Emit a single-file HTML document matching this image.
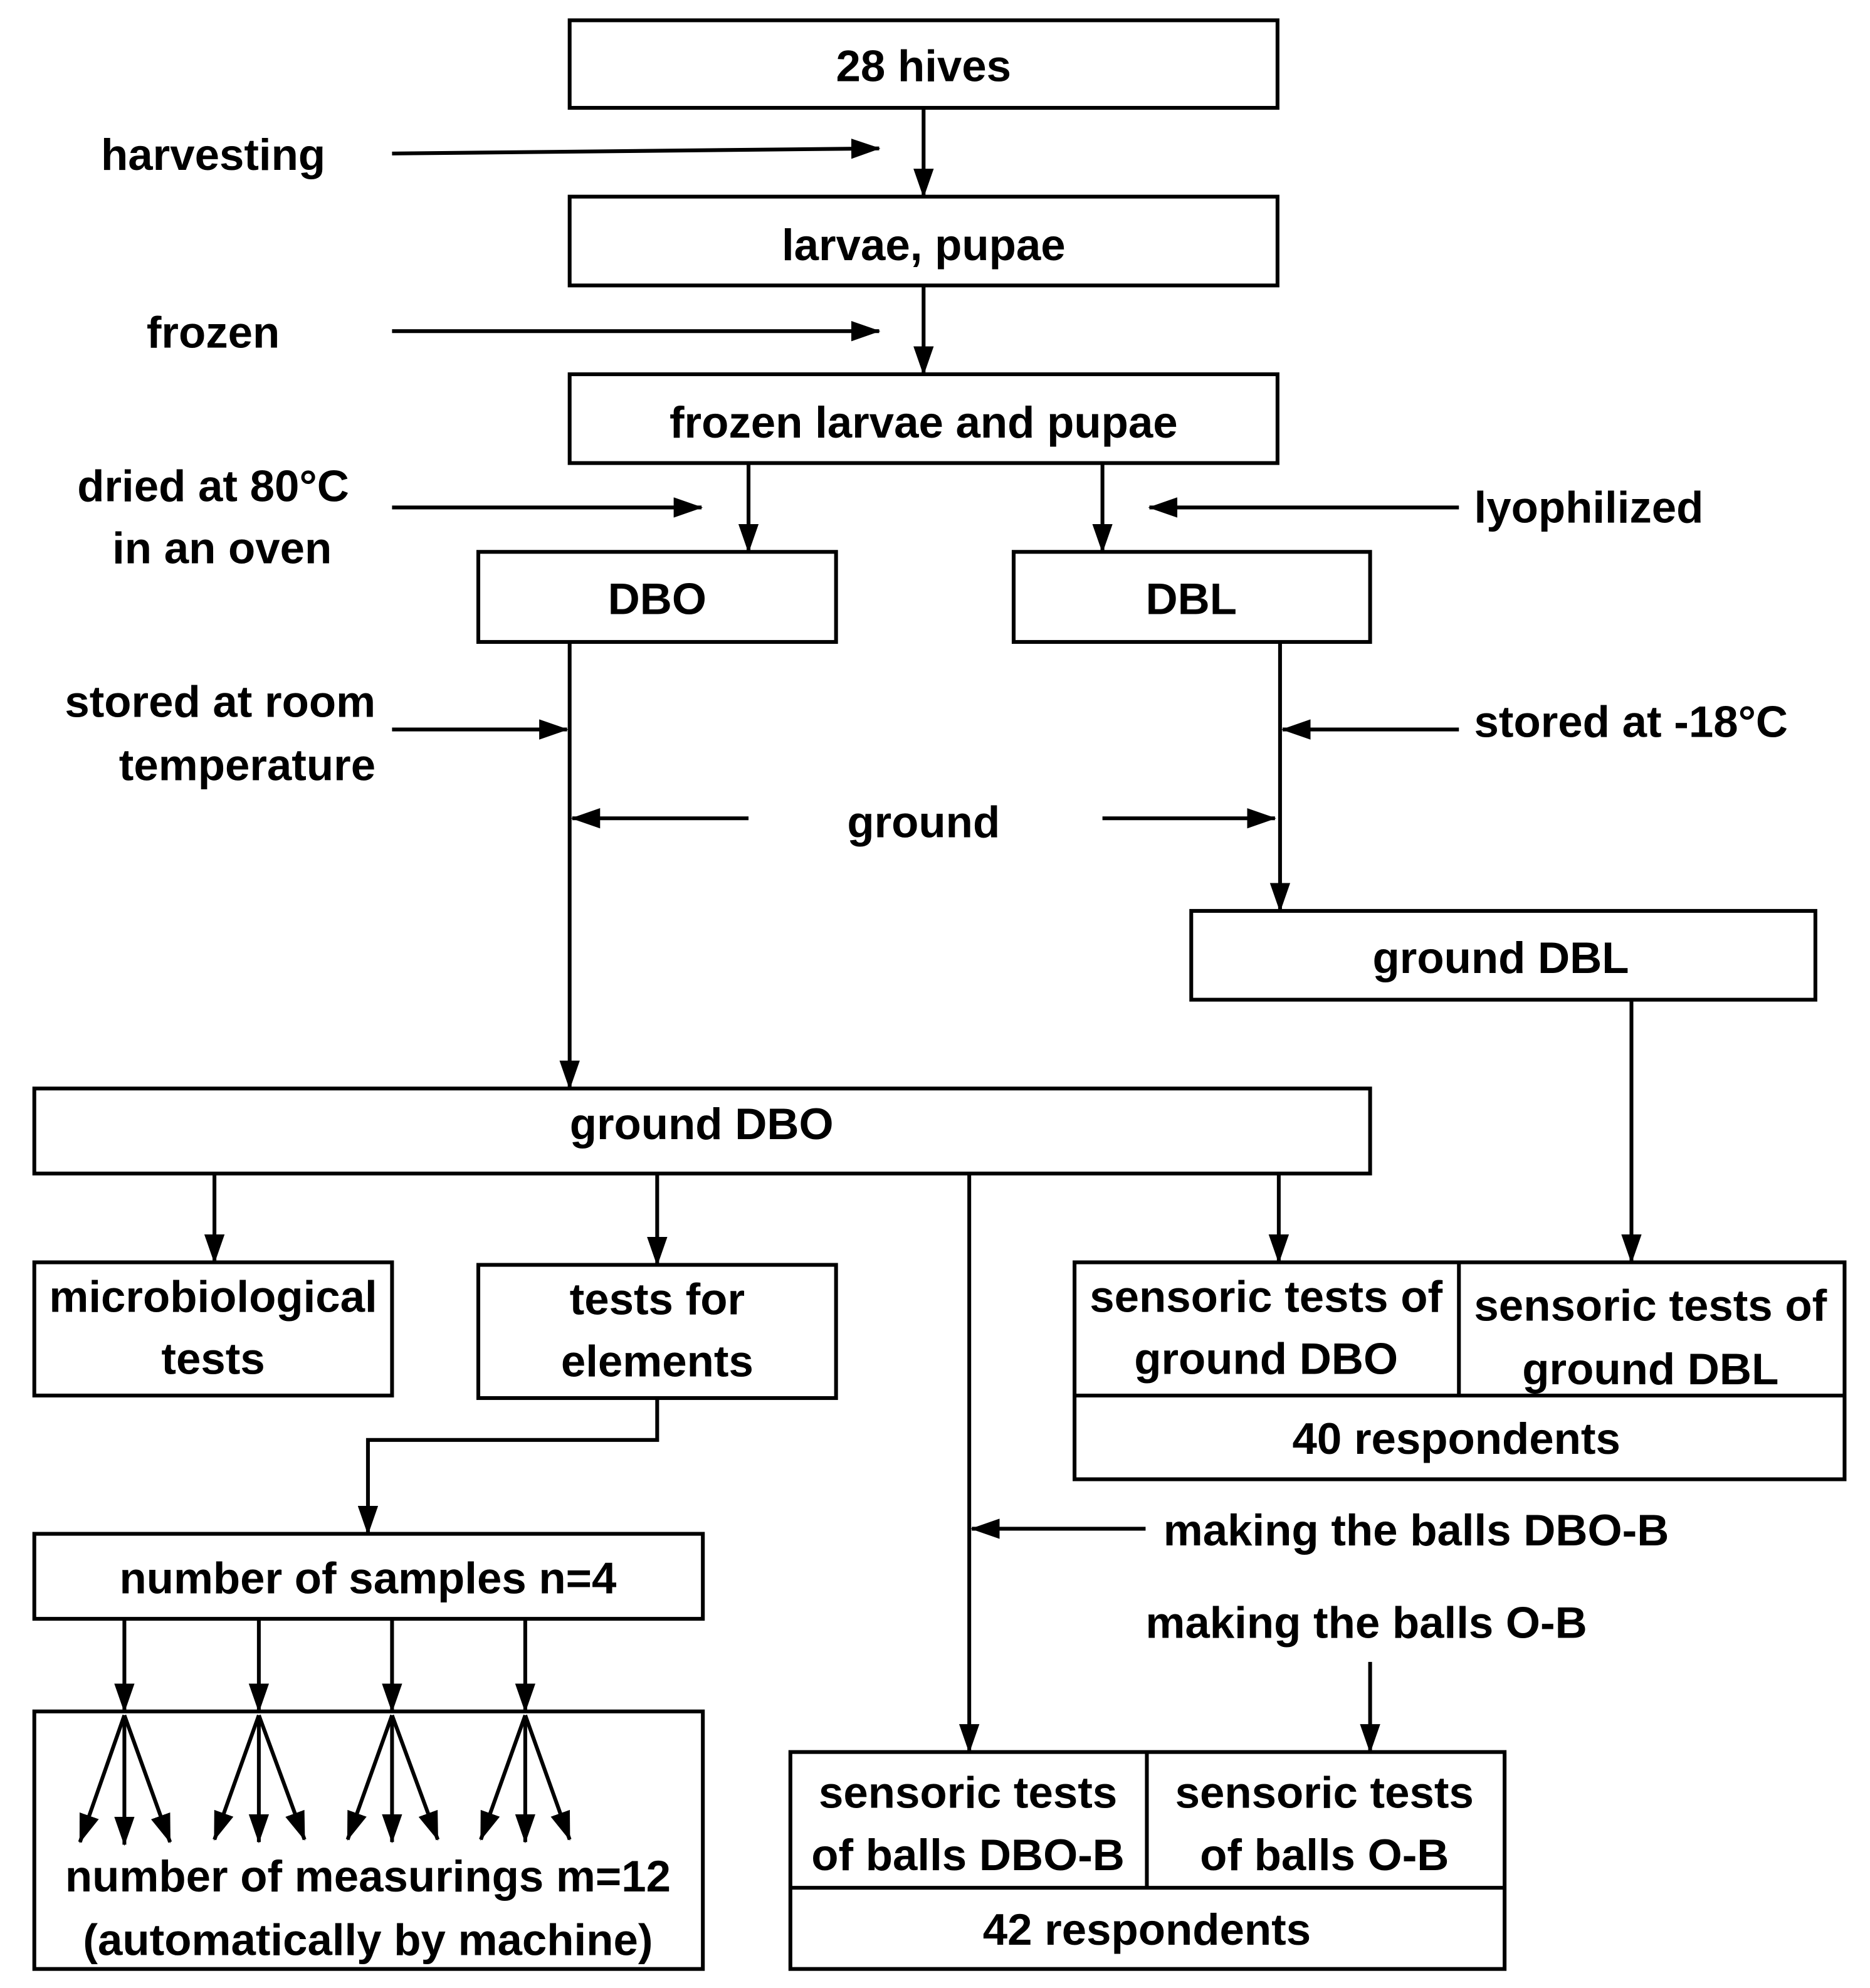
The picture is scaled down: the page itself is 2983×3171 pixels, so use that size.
<!DOCTYPE html>
<html><head><meta charset="utf-8"><style>
html,body{margin:0;padding:0;background:#fff;}
svg{display:block;}
text{font-family:"Liberation Sans",Arial,sans-serif;font-weight:bold;font-size:35px;fill:#000;}
</style></head><body>
<svg width="2983" height="3171" viewBox="0 0 1474 1567" xmlns="http://www.w3.org/2000/svg">
<defs>
<marker id="a" markerUnits="userSpaceOnUse" markerWidth="24" markerHeight="16" refX="22" refY="8" orient="auto">
<path d="M0,0 L23,8 L0,16 Z" fill="#000"/>
</marker>
</defs>
<g fill="none" stroke="#000" stroke-width="3">
<rect x="449" y="16" width="558" height="69"/>
<rect x="449" y="155" width="558" height="70"/>
<rect x="449" y="295" width="558" height="70"/>
<rect x="377" y="435" width="282" height="71"/>
<rect x="799" y="435" width="281" height="71"/>
<rect x="939" y="718" width="492" height="70"/>
<rect x="27" y="858" width="1053" height="67"/>
<rect x="27" y="995" width="282" height="105"/>
<rect x="377" y="997" width="282" height="105"/>
<rect x="847" y="995" width="607" height="171"/>
<line x1="1150" y1="995" x2="1150" y2="1100"/>
<line x1="847" y1="1100" x2="1454" y2="1100"/>
<rect x="27" y="1209" width="527" height="67"/>
<rect x="27" y="1349" width="527" height="203"/>
<rect x="623" y="1381" width="563" height="171"/>
<line x1="904" y1="1381" x2="904" y2="1488"/>
<line x1="623" y1="1488" x2="1186" y2="1488"/>
</g>
<g fill="none" stroke="#000" stroke-width="3" marker-end="url(#a)">
<line x1="728" y1="85" x2="728" y2="155"/>
<line x1="728" y1="225" x2="728" y2="295"/>
<line x1="309" y1="121" x2="693" y2="117"/>
<line x1="309" y1="261" x2="693" y2="261"/>
<line x1="590" y1="365" x2="590" y2="435"/>
<line x1="869" y1="365" x2="869" y2="435"/>
<line x1="309" y1="400" x2="553" y2="400"/>
<line x1="1150" y1="400" x2="906" y2="400"/>
<line x1="449" y1="506" x2="449" y2="858"/>
<line x1="309" y1="575" x2="447" y2="575"/>
<line x1="590" y1="645" x2="451" y2="645"/>
<line x1="869" y1="645" x2="1005" y2="645"/>
<line x1="1009" y1="506" x2="1009" y2="718"/>
<line x1="1150" y1="575" x2="1011" y2="575"/>
<line x1="1286" y1="788" x2="1286" y2="995"/>
<line x1="169" y1="925" x2="169" y2="995"/>
<line x1="518" y1="925" x2="518" y2="997"/>
<line x1="1008" y1="925" x2="1008" y2="995"/>
<line x1="764" y1="925" x2="764" y2="1381"/>
<polyline points="518,1102 518,1135 290,1135 290,1209"/>
<line x1="903" y1="1205" x2="766" y2="1205"/>
<line x1="1080" y1="1310" x2="1080" y2="1381"/>
<line x1="98" y1="1276" x2="98" y2="1349"/>
<line x1="204" y1="1276" x2="204" y2="1349"/>
<line x1="309" y1="1276" x2="309" y2="1349"/>
<line x1="414" y1="1276" x2="414" y2="1349"/>
<line x1="98" y1="1352" x2="63" y2="1452"/><line x1="98" y1="1352" x2="98" y2="1454"/><line x1="98" y1="1352" x2="134" y2="1452"/>
<line x1="204" y1="1352" x2="169" y2="1450"/><line x1="204" y1="1352" x2="204" y2="1452"/><line x1="204" y1="1352" x2="240" y2="1450"/>
<line x1="309" y1="1352" x2="274" y2="1450"/><line x1="309" y1="1352" x2="309" y2="1452"/><line x1="309" y1="1352" x2="345" y2="1450"/>
<line x1="414" y1="1352" x2="379" y2="1450"/><line x1="414" y1="1352" x2="414" y2="1452"/><line x1="414" y1="1352" x2="449" y2="1450"/>
</g>
<g text-anchor="middle">
<text x="728" y="64">28 hives</text>
<text x="168" y="134">harvesting</text>
<text x="728" y="205">larvae, pupae</text>
<text x="168" y="274">frozen</text>
<text x="728" y="345">frozen larvae and pupae</text>
<text x="168" y="395">dried at 80°C</text>
<text x="175" y="444">in an oven</text>
<text x="518" y="484">DBO</text>
<text x="939" y="484">DBL</text>
<text x="728" y="660">ground</text>
<text x="1183" y="767">ground DBL</text>
<text x="553" y="898">ground DBO</text>
<text x="168" y="1034">microbiological</text>
<text x="168" y="1083">tests</text>
<text x="518" y="1036">tests for</text>
<text x="518" y="1085">elements</text>
<text x="998" y="1034">sensoric tests of</text>
<text x="998" y="1083">ground DBO</text>
<text x="1301" y="1041">sensoric tests of</text>
<text x="1301" y="1091">ground DBL</text>
<text x="1148" y="1146">40 respondents</text>
<text x="290" y="1256">number of samples n=4</text>
<text x="290" y="1491">number of measurings m=12</text>
<text x="290" y="1541">(automatically by machine)</text>
<text x="763" y="1425">sensoric tests</text>
<text x="763" y="1474">of balls DBO-B</text>
<text x="1044" y="1425">sensoric tests</text>
<text x="1044" y="1474">of balls O-B</text>
<text x="904" y="1533">42 respondents</text>
</g>
<text x="1162" y="412">lyophilized</text>
<text x="296" y="565" text-anchor="end">stored at room</text>
<text x="296" y="615" text-anchor="end">temperature</text>
<text x="1162" y="581">stored at -18°C</text>
<text x="917" y="1218">making the balls DBO-B</text>
<text x="903" y="1291">making the balls O-B</text>
</svg>
</body></html>
